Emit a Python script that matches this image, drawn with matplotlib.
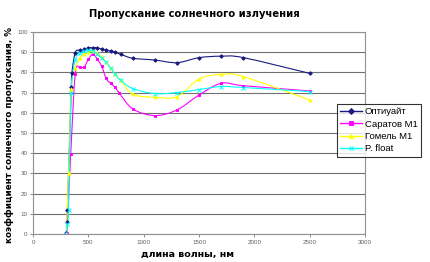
import matplotlib
matplotlib.use("Agg")
import matplotlib.pyplot as plt
from matplotlib.path import Path
from matplotlib.patches import PathPatch
from matplotlib.lines import Line2D
import numpy as np

plt.rcParams["font.family"] = ["Liberation Sans", "DejaVu Sans"]

# wavelength, nm / transmittance, %
opti_x = [300, 305, 310, 345, 350, 380, 420, 460, 500, 540, 580, 620, 660, 700,
          740, 790, 900, 1100, 1300, 1500, 1700, 1900, 2500]
opti_y = [0.5, 6, 12, 73, 79.5, 89.8, 91, 91.4, 92.2, 92.2, 92.2, 91.4, 91, 90.6,
          90, 89, 87, 86.1, 84.8, 87.3, 88, 87.3, 79.5]

sar_x = [305, 340, 380, 420, 460, 500, 540, 580, 620, 660, 700, 740, 780, 900,
         1100, 1300, 1500, 1700, 1900, 2500]
sar_y = [0.5, 39.5, 79, 82.5, 82.5, 86.5, 89, 86.5, 83, 77, 74.6, 72.6, 69.7, 61.9,
         58.6, 61.4, 68.8, 74.6, 73.4, 70.8]

gom_x = [300, 320, 345, 380, 420, 460, 500, 540, 580, 620, 660, 700, 740, 790, 900,
         1100, 1300, 1500, 1700, 1900, 2500]
gom_y = [0, 30, 72, 82, 87, 89, 90, 90.5, 89.5, 87.5, 85, 82, 79, 76.2, 69.2,
         67.7, 68, 76.7, 79, 77.9, 66.3]

flt_x = [300, 310, 320, 345, 380, 420, 460, 500, 540, 580, 620, 660, 700, 740, 790,
         900, 1100, 1300, 1500, 1700, 1900, 2500]
flt_y = [0, 5, 12, 70, 86, 89.5, 90.5, 91, 90.5, 89, 87, 85, 82, 79, 76, 72, 69.5,
         70, 71.5, 73, 72.5, 70.5]

labels = ["Оптиуайт", "Саратов М1", "Гомель М1", "P. float"]


def smooth_path(xs, ys):
    # Excel-like smoothed line: cubic Bezier through the points
    p = np.column_stack([xs, ys]).astype(float)
    verts = [p[0]]
    codes = [Path.MOVETO]
    n = len(p)
    for i in range(n - 1):
        p0 = p[i - 1] if i > 0 else p[i]
        p3 = p[i + 2] if i + 2 < n else p[i + 1]
        c1 = p[i] + (p[i + 1] - p0) / 6.0
        c2 = p[i + 1] - (p3 - p[i]) / 6.0
        verts += [c1, c2, p[i + 1]]
        codes += [Path.CURVE4] * 3
    return Path(verts, codes)


fig = plt.figure(figsize=(4.3, 2.62), dpi=100)
ax = fig.add_axes([0.077, 0.107, 0.772, 0.771])

series = [
    (opti_x, opti_y, "#1a1a80", "D", 1.8),
    (sar_x, sar_y, "#ff00ff", "s", 2.0),
    (gom_x, gom_y, "#ffff00", "^", 2.2),
    (flt_x, flt_y, "#00ffff", "x", 2.2),
]

handles = []
for (xs, ys, col, mk, ms), lab in zip(series, labels):
    ax.add_patch(PathPatch(smooth_path(xs, ys), fill=False, edgecolor=col, lw=0.8))
    ax.plot(xs, ys, ls="none", marker=mk, ms=ms, color=col, mew=0.7)
    handles.append(Line2D([], [], color=col, marker=mk, ms=3, lw=1.0, mew=0.7))

ax.set_xlim(0, 3000)
ax.set_ylim(0, 100)
ax.set_xticks(range(0, 3001, 500))
ax.set_yticks(range(0, 101, 10))
ax.tick_params(labelsize=4.5, colors="#606060", length=2, width=0.5, pad=2)
ax.grid(True, axis="y", color="#707070", lw=0.8)
ax.set_axisbelow(True)
for s in ax.spines.values():
    s.set_color("#909090")
    s.set_linewidth(0.8)

fig.text(0.452, 0.945, "Пропускание солнечного излучения", ha="center", va="center",
         fontsize=7.2, fontweight="bold", family=["DejaVu Sans"])
fig.text(0.435, 0.03, "длина волны, нм", ha="center", va="center",
         fontsize=6.8, fontweight="bold", family=["DejaVu Sans"])
fig.text(0.022, 0.485, "коэффициент солнечного пропускания, %", ha="center",
         va="center", rotation=90, fontsize=6.3, fontweight="bold",
         family=["DejaVu Sans"])

leg = fig.legend(handles, labels, loc="upper left", bbox_to_anchor=(0.784, 0.603),
                 fontsize=6.8, frameon=True, fancybox=False, handlelength=2.3,
                 borderpad=0.35, labelspacing=0.35, handletextpad=0.3,
                 borderaxespad=0)
leg.get_frame().set_edgecolor("black")
leg.get_frame().set_linewidth(0.8)

fig.savefig("out.png", dpi=100)
